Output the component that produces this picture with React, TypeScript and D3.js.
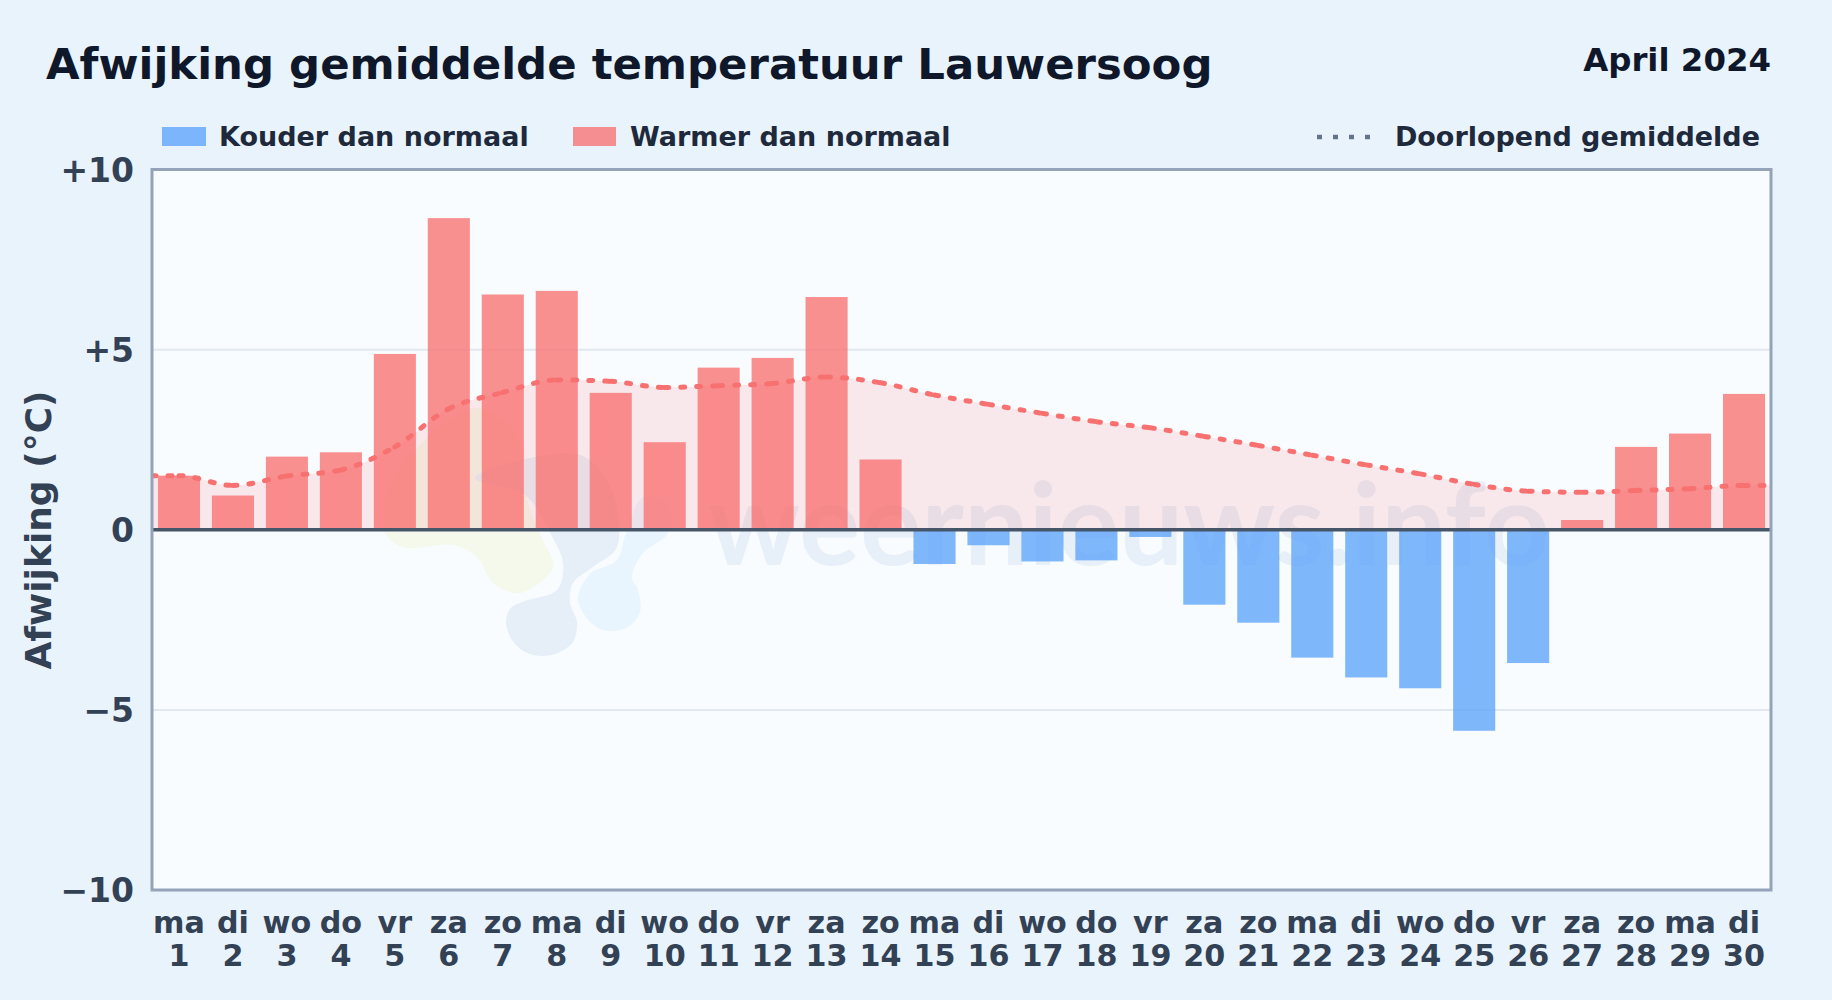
import React from "react";
import * as d3 from "d3";

const title = "Afwijking gemiddelde temperatuur Lauwersoog";
const period = "April 2024";
const watermark = "weernieuws.info";
const weekdays = ["ma","di","wo","do","vr","za","zo","ma","di","wo","do","vr","za","zo","ma","di","wo","do","vr","za","zo","ma","di","wo","do","vr","za","zo","ma","di"];
const days = d3.range(1, 31);
const anomalies = [1.5,0.95,2.03,2.15,4.88,8.65,6.53,6.63,3.8,2.43,4.5,4.77,6.46,1.95,-0.95,-0.43,-0.88,-0.85,-0.2,-2.08,-2.58,-3.55,-4.1,-4.4,-5.58,-3.7,0.27,2.3,2.67,3.77];
const runningMean = [1.5,1.23,1.49,1.66,2.3,3.36,3.81,4.16,4.12,3.95,4.0,4.06,4.24,4.08,3.74,3.48,3.23,3.0,2.83,2.59,2.34,2.07,1.8,1.55,1.26,1.07,1.04,1.09,1.14,1.23];
const yTicks = [-10,-5,0,5,10];
const yTickLabels = ["\u221210","\u22125","0","+5","+10"];

// faint logo behind the bars (decoration, page pixels)
const logoGrey: [number, number][] = [[506,622],[511,608],[525,601],[557,590],[563,563],[550,533],[525,495],[475,478],[530,458],[583,456],[612,490],[617,547],[593,567],[573,583],[570,603],[577,622],[573,642],[558,653],[542,656],[525,652],[512,640]];
const logoBlue: [number, number][] = [[578,598],[586,617],[598,628],[610,631],[628,627],[640,612],[638,590],[632,577],[643,553],[668,533],[668,505],[643,497],[626,533],[617,560],[590,574]];
const logoGreen: [number, number][] = [[385,533],[403,547],[453,545],[477,557],[493,583],[520,593],[553,567],[543,540],[527,500],[520,440],[478,408],[425,440],[388,490]];

const W = 1832, H = 1000;
const L = 152, R = 1771, T = 169.5, B = 890;
const FONT = "'DejaVu Sans', sans-serif";

export default function App() {
  const x = d3.scaleLinear().domain([0.5, 30.5]).range([L, R]);
  const y = d3.scaleLinear().domain([-10, 10]).range([B, T]);
  const barW = 0.78 * (x(2) - x(1));
  const pts: [number, number][] = [[0.5, runningMean[0]], ...days.map((d, i) => [d, runningMean[i]] as [number, number]), [30.5, runningMean[29]]];
  const line = d3.line<[number, number]>().x(d => x(d[0])).y(d => y(d[1])).curve(d3.curveMonotoneX);
  const area = d3.area<[number, number]>().x(d => x(d[0])).y0(y(0)).y1(d => y(d[1])).curve(d3.curveMonotoneX);
  const blob = d3.line<[number, number]>().curve(d3.curveCatmullRomClosed.alpha(0.5));

  // the dash pattern restarts at every day, so the curve is cut into one path per day
  const parts = (line(pts) ?? "").split("C");
  const startOf = (s: string) => s.split(",").slice(-2).join(",");
  const segments = parts.slice(1).map((c, i) => {
    const from = i === 0 ? parts[0].slice(1) : startOf(parts[i]);
    return `M${from}C${c}`;
  });

  return (
    <svg width={W} height={H} style={{ position: "absolute", left: 0, top: 0 }} fontFamily={FONT} fontWeight="bold">
      <defs>
        <clipPath id="plot"><rect x={L} y={T} width={R - L} height={B - T} /></clipPath>
      </defs>
      <rect width={W} height={H} fill="#e8f3fc" />
      <text x={46} y={79} fontSize={43.4} fill="#0f172a">{title}</text>
      <text x={1771} y={71} fontSize={32.4} fill="#0f172a" textAnchor="end">{period}</text>
      <rect x={162} y={127} width={44} height={19} fill="#60a5fa" fillOpacity={0.8} />
      <text x={219} y={146} fontSize={27} fill="#1e293b">Kouder dan normaal</text>
      <rect x={573} y={127} width={43} height={19} fill="#f87171" fillOpacity={0.78} />
      <text x={630} y={146} fontSize={27} fill="#1e293b">Warmer dan normaal</text>
      <line x1={1317} x2={1375} y1={137} y2={137} stroke="#64748b" strokeWidth={4.5} strokeDasharray="5 11" />
      <text x={1760} y={146} fontSize={27} fill="#1e293b" textAnchor="end">Doorlopend gemiddelde</text>
      <rect x={L} y={T} width={R - L} height={B - T} fill="#f8fcff" />
      <g clipPath="url(#plot)">
        <path d={blob(logoGreen) ?? ""} fill="#f4f9ec" />
        <path d={blob(logoGrey) ?? ""} fill="#e6eff8" />
        <path d={blob(logoBlue) ?? ""} fill="#e9f5fe" />
        <text x={708} y={565} fontSize={114} fontFamily="Lato, sans-serif" fill="#e7eff9" textLength={842} lengthAdjust="spacingAndGlyphs">{watermark}</text>
        {yTicks.filter(t => Math.abs(t) === 5).map(t => (
          <line key={t} x1={L} x2={R} y1={y(t)} y2={y(t)} stroke="#e2e8f0" strokeWidth={2} />
        ))}
        <path d={area(pts) ?? ""} fill="#f87171" fillOpacity={0.14} />
        {anomalies.map((v, i) => (
          <rect key={i} x={x(i + 1) - barW / 2} width={barW} y={v >= 0 ? y(v) : y(0)} height={Math.abs(y(v) - y(0))}
            fill={v >= 0 ? "#f87171" : "#60a5fa"} fillOpacity={v >= 0 ? 0.78 : 0.8} />
        ))}
        {segments.map((d, i) => (
          <path key={i} d={d} fill="none" stroke="#f87171" strokeWidth={5} strokeDasharray="4 12" strokeLinecap="round" />
        ))}
        <line x1={L} x2={R} y1={y(0)} y2={y(0)} stroke="#475569" strokeWidth={3.5} />
      </g>
      <rect x={L} y={T} width={R - L} height={B - T} fill="none" stroke="#94a3b8" strokeWidth={3} />
      {yTicks.map((t, i) => (
        <text key={t} x={134} y={y(t) + 12} fontSize={33} fill="#334155" textAnchor="end">{yTickLabels[i]}</text>
      ))}
      {days.map((d, i) => (
        <g key={d} fontSize={30.2} fill="#334155" textAnchor="middle">
          <text x={x(d)} y={933}>{weekdays[i]}</text>
          <text x={x(d)} y={966}>{d}</text>
        </g>
      ))}
      <text transform={`translate(51,530) rotate(-90)`} fontSize={36} fill="#334155" textAnchor="middle">Afwijking (°C)</text>
    </svg>
  );
}
